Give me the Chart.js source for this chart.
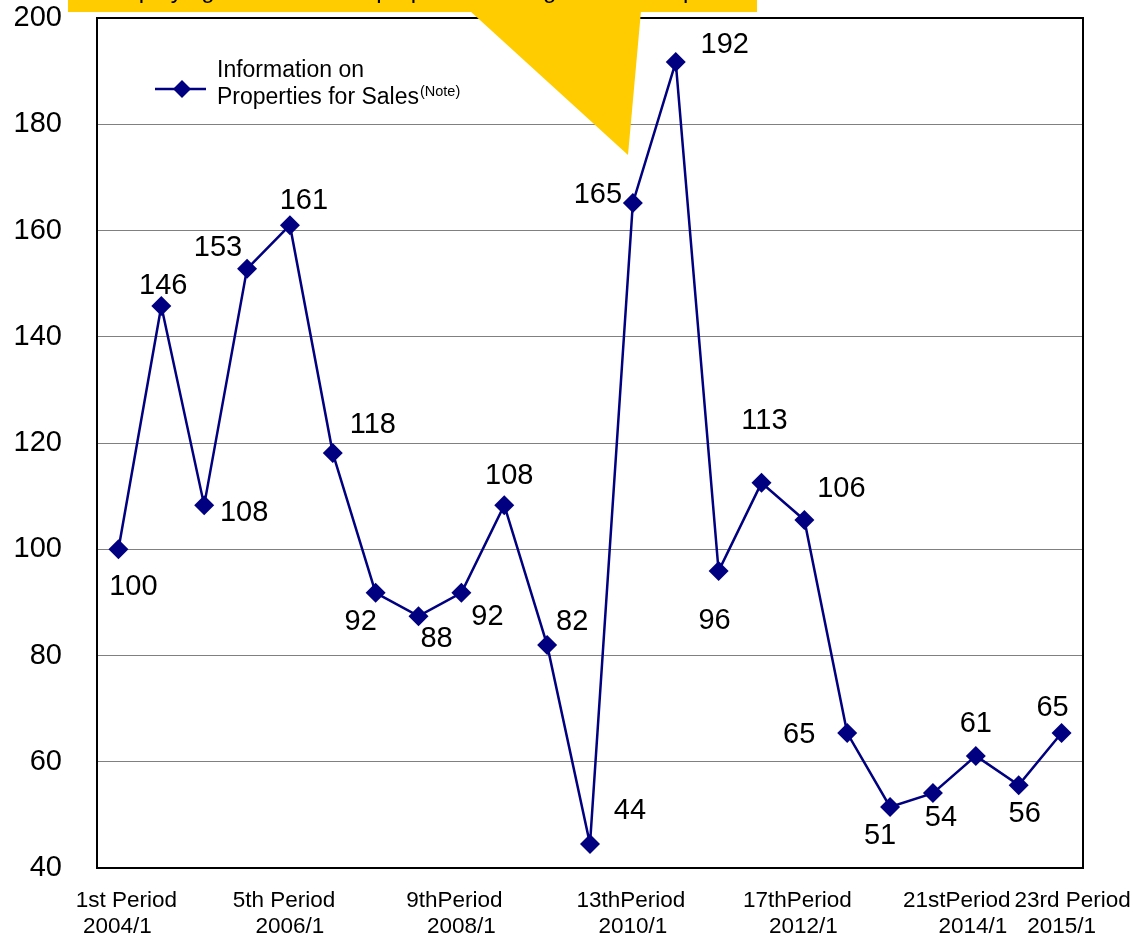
<!DOCTYPE html>
<html>
<head>
<meta charset="utf-8">
<script src="https://cdn.jsdelivr.net/npm/chart.js@4"></script>
<style>
  html, body { margin: 0; padding: 0; background: #fff; }
  #wrap { width: 1135px; height: 939px; }
</style>
</head>
<body>
<div id="wrap"><canvas id="salesChart" width="1135" height="939"></canvas></div>
<script>
// period index values (1st period = 100)
const periods = ['1st Period', '2nd', '3rd', '4th', '5th Period', '6th', '7th', '8th', '9thPeriod', '10th', '11th', '12th',
  '13thPeriod', '14th', '15th', '16th', '17thPeriod', '18th', '19th', '20th', '21stPeriod', '22nd', '23rd Period'];
const tickDates = ['2004/1', '', '', '', '2006/1', '', '', '', '2008/1', '', '', '', '2010/1', '', '', '', '2012/1', '', '', '', '2014/1', '', '2015/1'];
const shownTicks = [0, 4, 8, 12, 16, 20, 22];
const salesInfo = [100, 145.8, 108.3, 152.8, 161, 118.1, 91.8, 87.4, 91.8, 108.3, 82, 44.5,
  165.2, 191.7, 95.9, 112.5, 105.5, 65.4, 51.5, 54.1, 61.1, 55.6, 65.4];
const valueLabels = ['100', '146', '108', '153', '161', '118', '92', '88', '92', '108', '82', '44',
  '165', '192', '96', '113', '106', '65', '51', '54', '61', '56', '65'];

// where each value label sits relative to its point
const labelOffsets = [[15, 38], [2, -20], [40, 8], [-29, -21], [14, -24], [40, -28], [-15, 29], [18, 23], [26, 24], [5, -29],
  [25, -23], [40, -33], [-35, -8], [49, -17], [-4, 50], [3, -62], [37, -31], [-48, 2], [-10, 29], [8, 25], [0, -32], [6, 29], [-9, -25]];
// horizontal nudge of the two tick-label lines (same order as shownTicks)
const tickNudges = [[8, -1], [-6, 0], [-7, 0], [-2, 0], [-7, -1], [-19, -3], [11, 0]];

const navy = '#000080';
const font = 'Arial, "Liberation Sans", sans-serif';

const extras = {
  id: 'extras',
  afterDatasetsDraw(chart) {
    const ctx = chart.ctx;
    const area = chart.chartArea;
    const pts = chart.getDatasetMeta(0).data;
    const xScale = chart.scales.x;

    // value labels
    ctx.save();
    ctx.fillStyle = '#000';
    ctx.font = '29px ' + font;
    ctx.textAlign = 'center';
    ctx.textBaseline = 'middle';
    pts.forEach((pt, i) => {
      const off = labelOffsets[i];
      ctx.fillText(valueLabels[i], pt.x + off[0], pt.y + off[1]);
    });
    ctx.restore();

    // category labels (two lines each)
    ctx.save();
    ctx.fillStyle = '#000';
    ctx.font = '22.5px ' + font;
    ctx.textAlign = 'center';
    ctx.textBaseline = 'middle';
    shownTicks.forEach((idx, k) => {
      const x = xScale.getPixelForValue(idx);
      ctx.fillText(periods[idx], x + tickNudges[k][0], area.bottom + 33);
      ctx.fillText(tickDates[idx], x + tickNudges[k][1], area.bottom + 59);
    });
    ctx.restore();

    // plot frame
    ctx.save();
    ctx.strokeStyle = '#000';
    ctx.lineWidth = 2;
    ctx.strokeRect(area.left, area.top, area.right - area.left, area.bottom - area.top);
    ctx.restore();

    // legend
    ctx.save();
    ctx.strokeStyle = navy;
    ctx.lineWidth = 2.5;
    ctx.beginPath();
    ctx.moveTo(155, 89);
    ctx.lineTo(206, 89);
    ctx.stroke();
    ctx.fillStyle = navy;
    ctx.beginPath();
    ctx.moveTo(182, 80);
    ctx.lineTo(191, 89);
    ctx.lineTo(182, 98);
    ctx.lineTo(173, 89);
    ctx.closePath();
    ctx.fill();
    ctx.fillStyle = '#000';
    ctx.textAlign = 'left';
    ctx.textBaseline = 'middle';
    ctx.font = '23px ' + font;
    ctx.fillText('Information on', 217, 71);
    ctx.fillText('Properties for Sales', 217, 98);
    const w = ctx.measureText('Properties for Sales').width;
    ctx.font = '14.5px ' + font;
    ctx.fillText('(Note)', 218 + w, 92);
    ctx.restore();
  },
  afterDraw(chart) {
    const ctx = chart.ctx;
    ctx.save();
    ctx.fillStyle = '#FFCC00';
    ctx.fillRect(68, 0, 689, 12);
    ctx.beginPath();
    ctx.moveTo(470, 11);
    ctx.lineTo(641, 11);
    ctx.lineTo(628, 155);
    ctx.closePath();
    ctx.fill();
    // banner caption, cut off by the top edge so only descenders show
    ctx.beginPath();
    ctx.rect(68, 0, 689, 12);
    ctx.clip();
    ctx.fillStyle = '#000';
    ctx.font = '24px ' + font;
    ctx.textAlign = 'left';
    ctx.textBaseline = 'alphabetic';
    ctx.fillText('Displaying the number of properties during each fiscal period', 104, -2);
    ctx.restore();
  }
};

new Chart(document.getElementById('salesChart'), {
  type: 'line',
  data: {
    labels: periods,
    datasets: [{
      data: salesInfo,
      borderColor: navy,
      backgroundColor: navy,
      borderWidth: 2.5,
      pointStyle: 'rectRot',
      pointRadius: 10,
      pointBorderWidth: 0,
      tension: 0,
      fill: false
    }]
  },
  options: {
    responsive: false,
    animation: false,
    layout: { padding: { top: 18, right: 52, left: 0, bottom: 0 } },
    plugins: {
      legend: { display: false },
      tooltip: { enabled: false }
    },
    scales: {
      x: {
        offset: true,
        grid: { display: false, drawTicks: false },
        border: { display: false },
        ticks: { display: false },
        afterFit(scale) {
          scale.height = 71;
          scale.paddingLeft = 0;
          scale.paddingRight = 0;
        }
      },
      y: {
        min: 40,
        max: 200,
        grid: { color: '#808080', lineWidth: 1, drawTicks: false },
        border: { display: false },
        ticks: {
          stepSize: 20,
          padding: 35,
          color: '#000',
          font: { family: font, size: 29 }
        },
        afterFit(scale) {
          scale.width = 97;
          scale.paddingTop = 0;
          scale.paddingBottom = 0;
        }
      }
    }
  },
  plugins: [extras]
});
</script>
</body>
</html>
